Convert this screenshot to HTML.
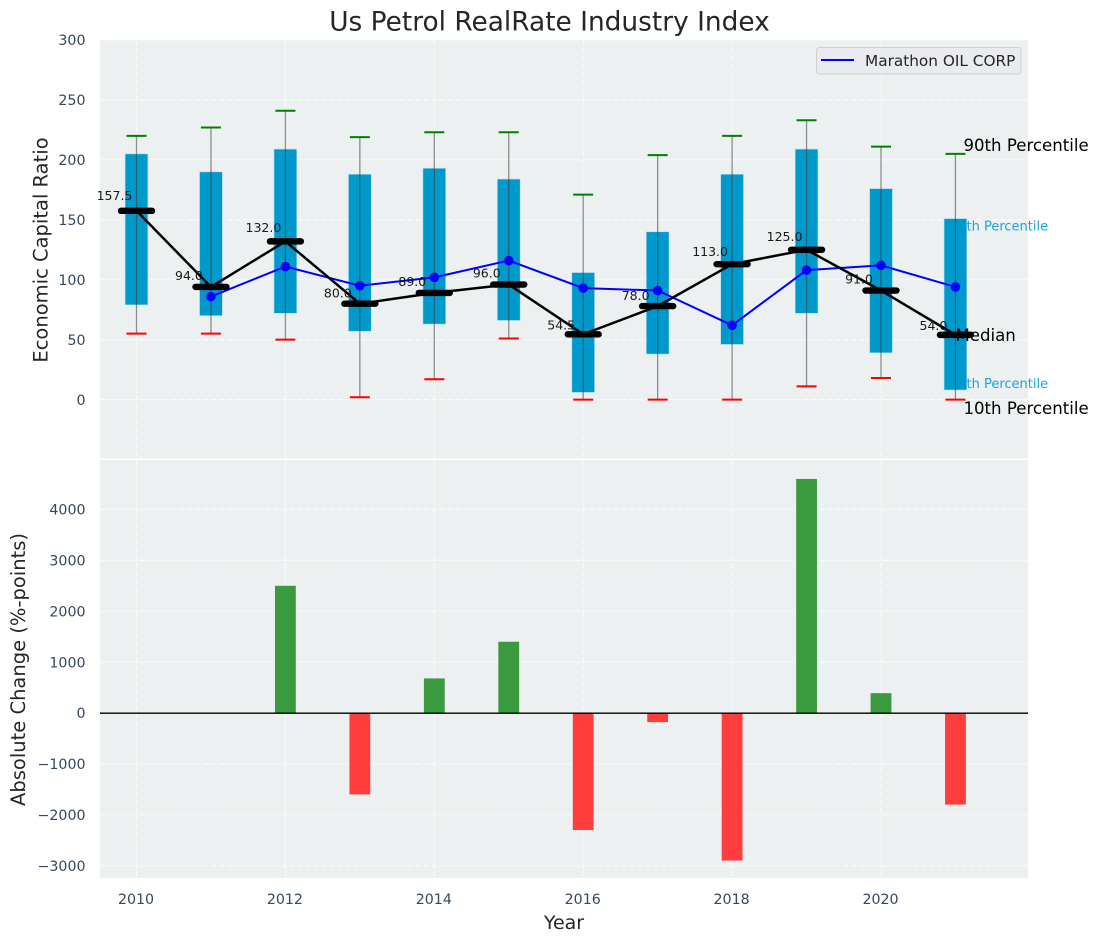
<!DOCTYPE html>
<html lang="en">
<head>
<meta charset="utf-8">
<title>Us Petrol RealRate Industry Index</title>
<style>
html,body{margin:0;padding:0;background:#fff;}
svg{display:block;font-family:"DejaVu Sans","Liberation Sans",sans-serif;}
</style>
</head>
<body>
<svg id="chart" xmlns="http://www.w3.org/2000/svg" width="1098" height="942" viewBox="0 0 1098 942">
  <text x="549.5" y="30.5" text-anchor="middle" font-size="26.4" fill="#262626">Us Petrol RealRate Industry Index</text>
  <text x="564" y="929" text-anchor="middle" font-size="19" fill="#262626">Year</text>
  <text transform="translate(47.5,250) rotate(-90)" text-anchor="middle" font-size="19.5" fill="#262626">Economic Capital Ratio</text>
  <text transform="translate(25,669.5) rotate(-90)" text-anchor="middle" font-size="19.5" fill="#262626">Absolute Change (%-points)</text>
</svg>
<script>
const years = [2010, 2011, 2012, 2013, 2014, 2015, 2016, 2017, 2018, 2019, 2020, 2021];
const p90 = [220, 227, 241, 219, 223, 223, 171, 204, 220, 233, 211, 205];
const p75 = [205, 190, 209, 188, 193, 184, 106, 140, 188, 209, 176, 151];
const medians = [157.5, 94, 132, 80, 89, 96, 54.5, 78, 113, 125, 91, 54];
const p25 = [79, 70, 72, 57, 63, 66, 6, 38, 46, 72, 39, 8];
const p10 = [55, 55, 50, 2, 17, 51, 0, 0, 0, 11, 18, 0];
const company = [null, 86, 111, 95, 102, 116, 93, 91, 62, 108, 112, 94];
const changes = [0, 0, 2500, -1600, 680, 1400, -2300, -180, -2900, 4600, 390, -1800];
const xTicks = [2010, 2012, 2014, 2016, 2018, 2020];
const topYTicks = [0, 50, 100, 150, 200, 250, 300];
const bottomYTicks = [-3000, -2000, -1000, 0, 1000, 2000, 3000, 4000];
const seriesName = 'Marathon OIL CORP';

const svg = document.getElementById('chart');
const NS = 'http://www.w3.org/2000/svg';
const plotLeft = 100, plotRight = 1028;
const topPlotTop = 40, topPlotBottom = 458.5;
const bottomPlotTop = 460, bottomPlotBottom = 878;

function xScale(v) { return 136.5 + (v - 2010) * 74.45; }
function yTop(v) { return 399.6 - v * 1.1987; }
function yBottom(v) { return 713 - v * 0.05088; }

function make(tag, attrs, text) {
  const el = document.createElementNS(NS, tag);
  for (const k in attrs) el.setAttribute(k, attrs[k]);
  if (text !== undefined) el.textContent = text;
  svg.appendChild(el);
  return el;
}
function line(x1, y1, x2, y2, stroke, width, extra) {
  return make('line', Object.assign({x1: x1, y1: y1, x2: x2, y2: y2, stroke: stroke, 'stroke-width': width}, extra || {}));
}
function label(x, y, text, size, fill, anchor) {
  return make('text', {x: x, y: y, 'font-size': size, fill: fill, 'text-anchor': anchor || 'start'}, text);
}
function fmtTick(v) { return v < 0 ? '\u2212' + Math.abs(v) : String(v); }

/* panels */
const topPanel = make('rect', {x: plotLeft, y: topPlotTop, width: plotRight - plotLeft, height: topPlotBottom - topPlotTop, fill: '#ecf0f1'});


const bottomPanel = make('rect', {x: plotLeft, y: bottomPlotTop, width: plotRight - plotLeft, height: bottomPlotBottom - bottomPlotTop, fill: '#ecf0f1'});



const gridDash = {'stroke-dasharray': '5.5 2.4', opacity: 0.75};

/* grid */
xTicks.forEach(function (t) {
  const gt = line(xScale(t), topPlotTop, xScale(t), topPlotBottom, '#fff', 1.1, gridDash);
  
  
  const gb = line(xScale(t), bottomPlotTop, xScale(t), bottomPlotBottom, '#fff', 1.1, gridDash);
  
  
  const tl = label(xScale(t) - 0.5, 904, String(t), 14.2, '#34495e', 'middle');
  
  
});
topYTicks.forEach(function (t) {
  const g = line(plotLeft, yTop(t), plotRight, yTop(t), '#fff', 1.1, gridDash);
  
  
  const tl = label(85.5, yTop(t) + 5.2, fmtTick(t), 14.2, '#34495e', 'end');
  
  
});
bottomYTicks.forEach(function (t) {
  const g = line(plotLeft, yBottom(t), plotRight, yBottom(t), '#fff', 1.1, gridDash);
  
  
  const tl = label(85.5, yBottom(t) + 5.2, fmtTick(t), 14.2, '#34495e', 'end');
  
  
});

/* reference annotations drawn under boxes */
const lastIndex = years.length - 1;
const labelX = xScale(years[lastIndex]) + 8;
const note75 = label(labelX - 13.5, yTop(p75[lastIndex]) + 12, '75th Percentile', 13, '#1fa3d2');


const note25 = label(labelX - 13.5, yTop(p25[lastIndex]) - 2, '25th Percentile', 13, '#1fa3d2');



/* boxes */
years.forEach(function (y, i) {
  const cx = xScale(y);
  const box = make('rect', {x: cx - 11.4, y: yTop(p75[i]), width: 22.8, height: yTop(p25[i]) - yTop(p75[i]), fill: '#0099cc', stroke: '#b8dfee', 'stroke-width': 0.6});
  
  
});

/* whiskers */
years.forEach(function (y, i) {
  const cx = xScale(y);
  const wh = line(cx, yTop(p10[i]), cx, yTop(p90[i]), '#3a3a3a', 1.3, {opacity: 0.55});
  
  
  const capHi = line(cx - 10, yTop(p90[i]), cx + 10, yTop(p90[i]), '#008000', 2);
  
  
  const capLo = line(cx - 10, yTop(p10[i]), cx + 10, yTop(p10[i]), '#ff0000', 2);
  
  
});

/* company series */
const companyPoints = years.map(function (y, i) {
  return company[i] === null ? null : xScale(y) + ',' + yTop(company[i]);
}).filter(Boolean).join(' ');
const companyLine = make('polyline', {points: companyPoints, fill: 'none', stroke: '#0000ff', 'stroke-width': 2});


years.forEach(function (y, i) {
  if (company[i] === null) return;
  const dot = make('circle', {cx: xScale(y), cy: yTop(company[i]), r: 4.8, fill: '#0000ff'});
  
  
});

/* median series */
const medianPoints = years.map(function (y, i) { return xScale(y) + ',' + yTop(medians[i]); }).join(' ');
const medianLine = make('polyline', {points: medianPoints, fill: 'none', stroke: '#000', 'stroke-width': 2.5});


years.forEach(function (y, i) {
  const cx = xScale(y), my = yTop(medians[i]);
  const bar = line(cx - 15.5, my, cx + 15.5, my, '#000', 6.4, {'stroke-linecap': 'round'});
  
  
  const val = label(cx - 22, yTop(medians[i] * 1.05 + 5) + 4.5, medians[i].toFixed(1), 12.5, '#1a1a1a', 'middle');
  
  
});

/* black annotations */
const note90 = label(labelX, yTop(p90[lastIndex]) - 3, '90th Percentile', 16.6, '#000');


const noteMedian = label(labelX - 8, yTop(medians[lastIndex]) + 6, 'Median', 16.6, '#000');


const note10 = label(labelX, yTop(p10[lastIndex]) + 14.5, '10th Percentile', 16.6, '#000');



/* change bars */
years.forEach(function (y, i) {
  if (changes[i] === 0) return;
  const top = Math.min(yBottom(0), yBottom(changes[i]));
  const h = Math.abs(yBottom(changes[i]) - yBottom(0));
  const b = make('rect', {x: xScale(y) - 10.4, y: top, width: 20.8, height: h, fill: changes[i] > 0 ? '#3a9b3e' : '#ff3d3d'});
  
  
});
const zeroLine = line(plotLeft, yBottom(0) + 0.2, plotRight, yBottom(0) + 0.2, '#000', 1.4);



/* legend */
const legendBox = make('rect', {x: 816.5, y: 47.5, width: 204.5, height: 26.5, rx: 3, fill: '#e9ebf0', stroke: '#cfcfcf', 'stroke-width': 1});


const legendLine = line(821, 60, 854, 60, '#0000ff', 2);


const legendText = label(865, 66, seriesName, 15.3, '#262626');


</script>
</body>
</html>
